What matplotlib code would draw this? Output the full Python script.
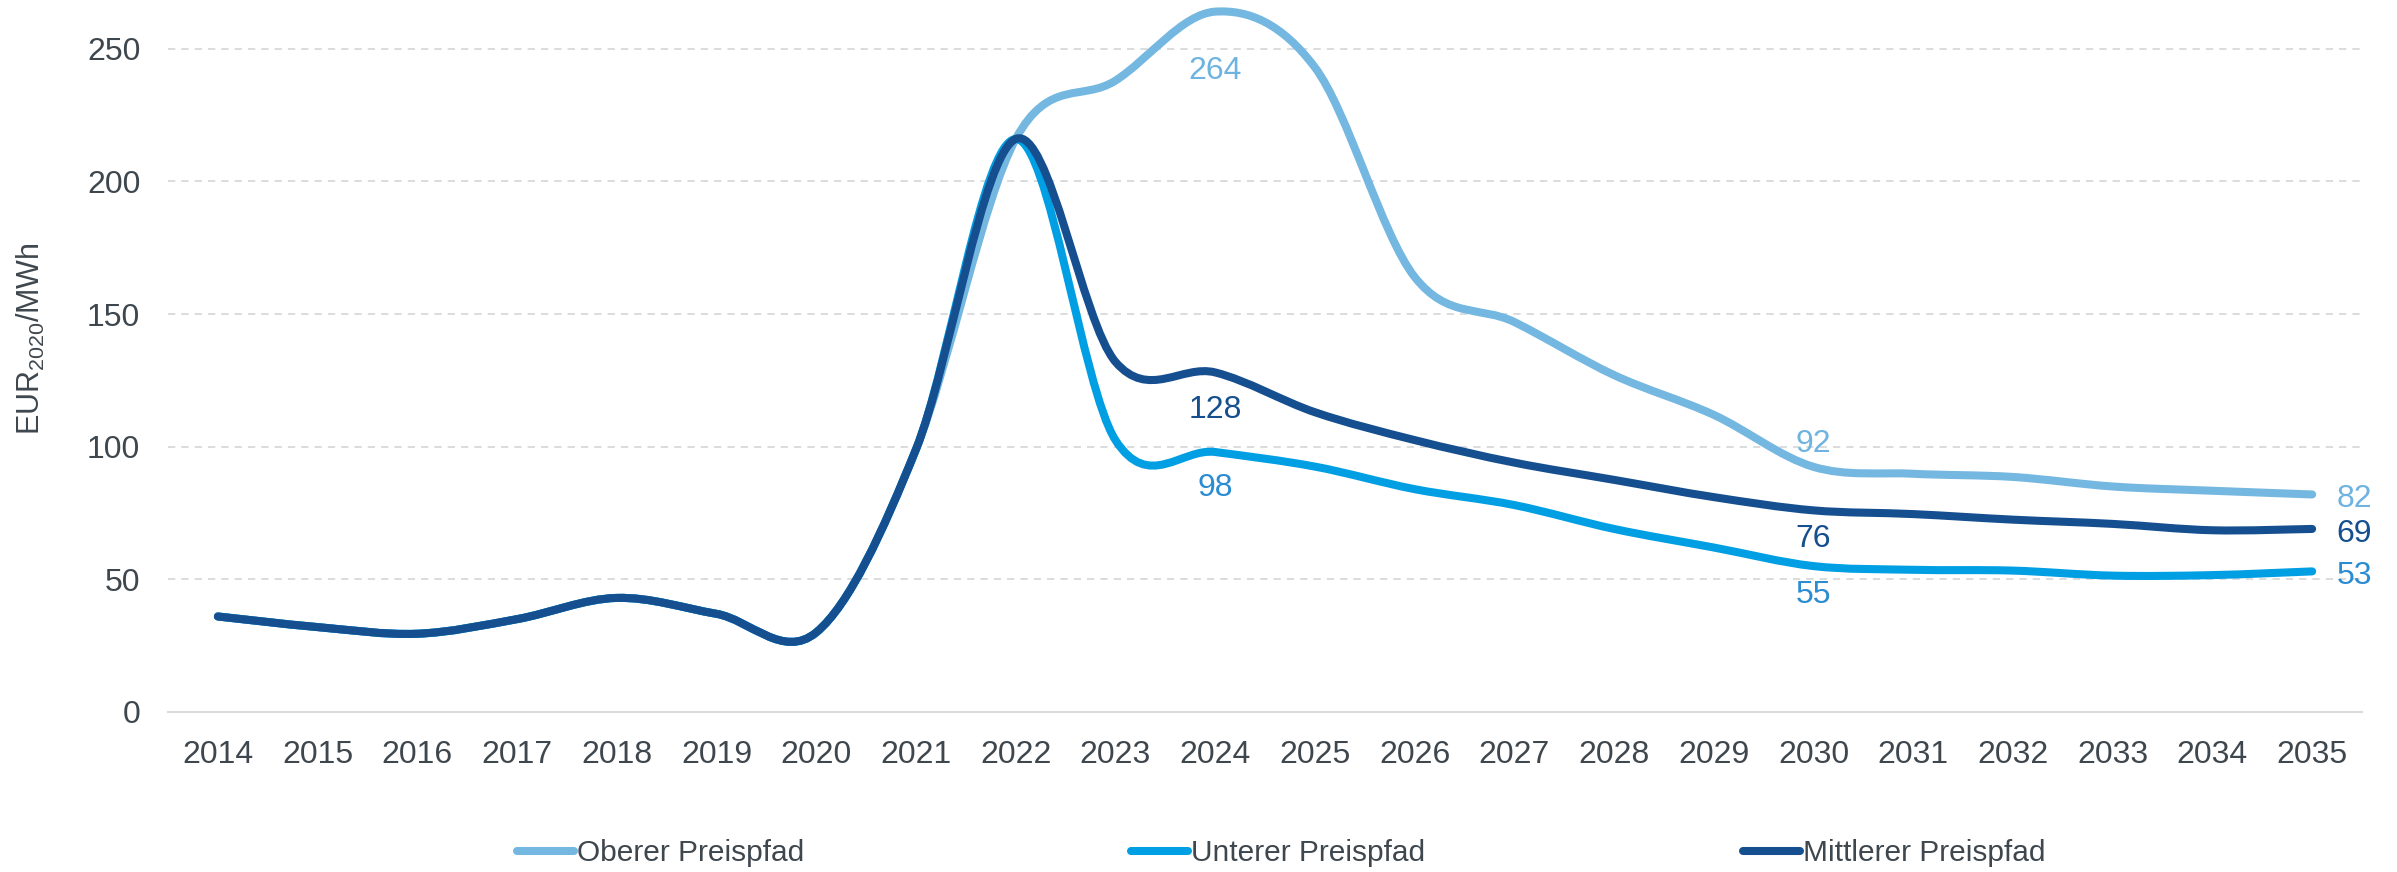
import numpy as np
import matplotlib
matplotlib.use('Agg')
import matplotlib.pyplot as plt
from matplotlib.path import Path
from matplotlib.patches import PathPatch
from matplotlib.lines import Line2D

plt.rcParams['font.family'] = ['Liberation Sans', 'DejaVu Sans']
plt.rcParams['mathtext.fontset'] = 'custom'
plt.rcParams['mathtext.rm'] = 'Liberation Sans'

years = list(range(2014, 2036))

# Werte (EUR2020/MWh)
oberer = [36, 32, 29.5, 35, 43, 37, 30, 99, 216, 238, 264, 243, 164, 147,
          127, 112, 92.4, 89.8, 88.6, 85, 83.4, 82]
unterer = [36, 32, 29.5, 35, 43, 37, 30, 99, 216, 102.5, 98, 92.5, 84, 78,
           69, 62, 55, 53.6, 53.3, 51.4, 51.6, 53]
mittlerer = [36, 32, 29.5, 35, 43, 37, 30, 99, 216, 132, 128, 113, 102.5, 94,
             87.5, 81, 76, 74.6, 72.5, 70.9, 68.5, 69]

series_names = ['Oberer Preispfad', 'Unterer Preispfad', 'Mittlerer Preispfad']
line_colors = ['#74B7E0', '#009FE3', '#154F8F']
label_colors = ['#6FB4E0', '#2B8CD2', '#154F8F']

# welche Jahre beschriftet werden: (Jahr, Offset x px, Offset y px)
label_spots = [
    [(2024, 0, -59), (2030, 0, 23), (2035, 42, -5)],
    [(2024, 0, -36), (2030, 0, -29), (2035, 42, -5)],
    [(2024, 0, -38), (2030, 0, -29), (2035, 42, -5)],
]


def smooth_path(x, y):
    # Catmull-Rom als Bezier, wie die geglaetteten Linien in Excel
    n = len(x)
    verts = [(x[0], y[0])]
    codes = [Path.MOVETO]
    for i in range(n - 1):
        a = i - 1 if i > 0 else i
        d = i + 2 if i + 2 < n else i + 1
        c1 = (x[i] + (x[i + 1] - x[a]) / 6, y[i] + (y[i + 1] - y[a]) / 6)
        c2 = (x[i + 1] - (x[d] - x[i]) / 6, y[i + 1] - (y[d] - y[i]) / 6)
        verts += [c1, c2, (x[i + 1], y[i + 1])]
        codes += [Path.CURVE4] * 3
    return Path(verts, codes)


fig = plt.figure(figsize=(23.97, 8.72), dpi=100)
ax = fig.add_axes([0.0701, 0.1835, 0.9153, 0.8062])

for vals, col in zip([oberer, unterer, mittlerer], line_colors):
    patch = PathPatch(smooth_path(years, vals), fill=False, edgecolor=col,
                      lw=5.8, capstyle='round', joinstyle='round', clip_on=False)
    ax.add_patch(patch)

for vals, col, spots in zip([oberer, unterer, mittlerer], label_colors, label_spots):
    for yr, dx, dy in spots:
        v = vals[years.index(yr)]
        ax.annotate(f'{round(v):d}', (yr, v), xytext=(dx, dy), textcoords='offset pixels',
                    ha='center', va='center', fontsize=23, color=col)

ax.set_xlim(2013.5, 2035.5)
ax.set_ylim(0, 265)
ax.set_xticks(years)
ax.set_yticks([0, 50, 100, 150, 200, 250])
ax.tick_params(axis='both', length=0, labelsize=23, labelcolor='#3F474E')
ax.tick_params(axis='x', pad=20)
ax.tick_params(axis='y', pad=20)

ax.yaxis.grid(True, color='#D9DCDE', lw=1.4, linestyle=(0, (3.75, 3.1)))
ax.set_axisbelow(True)
for s in ['top', 'right', 'left']:
    ax.spines[s].set_visible(False)
ax.spines['bottom'].set_color('#D9DCDE')
ax.spines['bottom'].set_linewidth(1.5)

ax.set_ylabel(r'EUR$_{\mathregular{2020}}$/MWh', fontsize=22, color='#3F474E', va='center')
ax.yaxis.set_label_coords(-0.0624, 0.531)

# Legende: drei einzelne Eintraege nebeneinander
legend_x = [517, 1131, 1743]
for name, col, lx in zip(series_names, line_colors, legend_x):
    h = Line2D([], [], color=col, lw=5.8, solid_capstyle='round')
    fig.legend([h], [name], loc='center left', bbox_to_anchor=(lx / 2397, 1 - 853 / 872),
               frameon=False, borderpad=0, borderaxespad=0, handlelength=1.9,
               handletextpad=0.1, prop={'size': 21.5}, labelcolor='#3F474E')

fig.savefig('out.png', dpi=100)
